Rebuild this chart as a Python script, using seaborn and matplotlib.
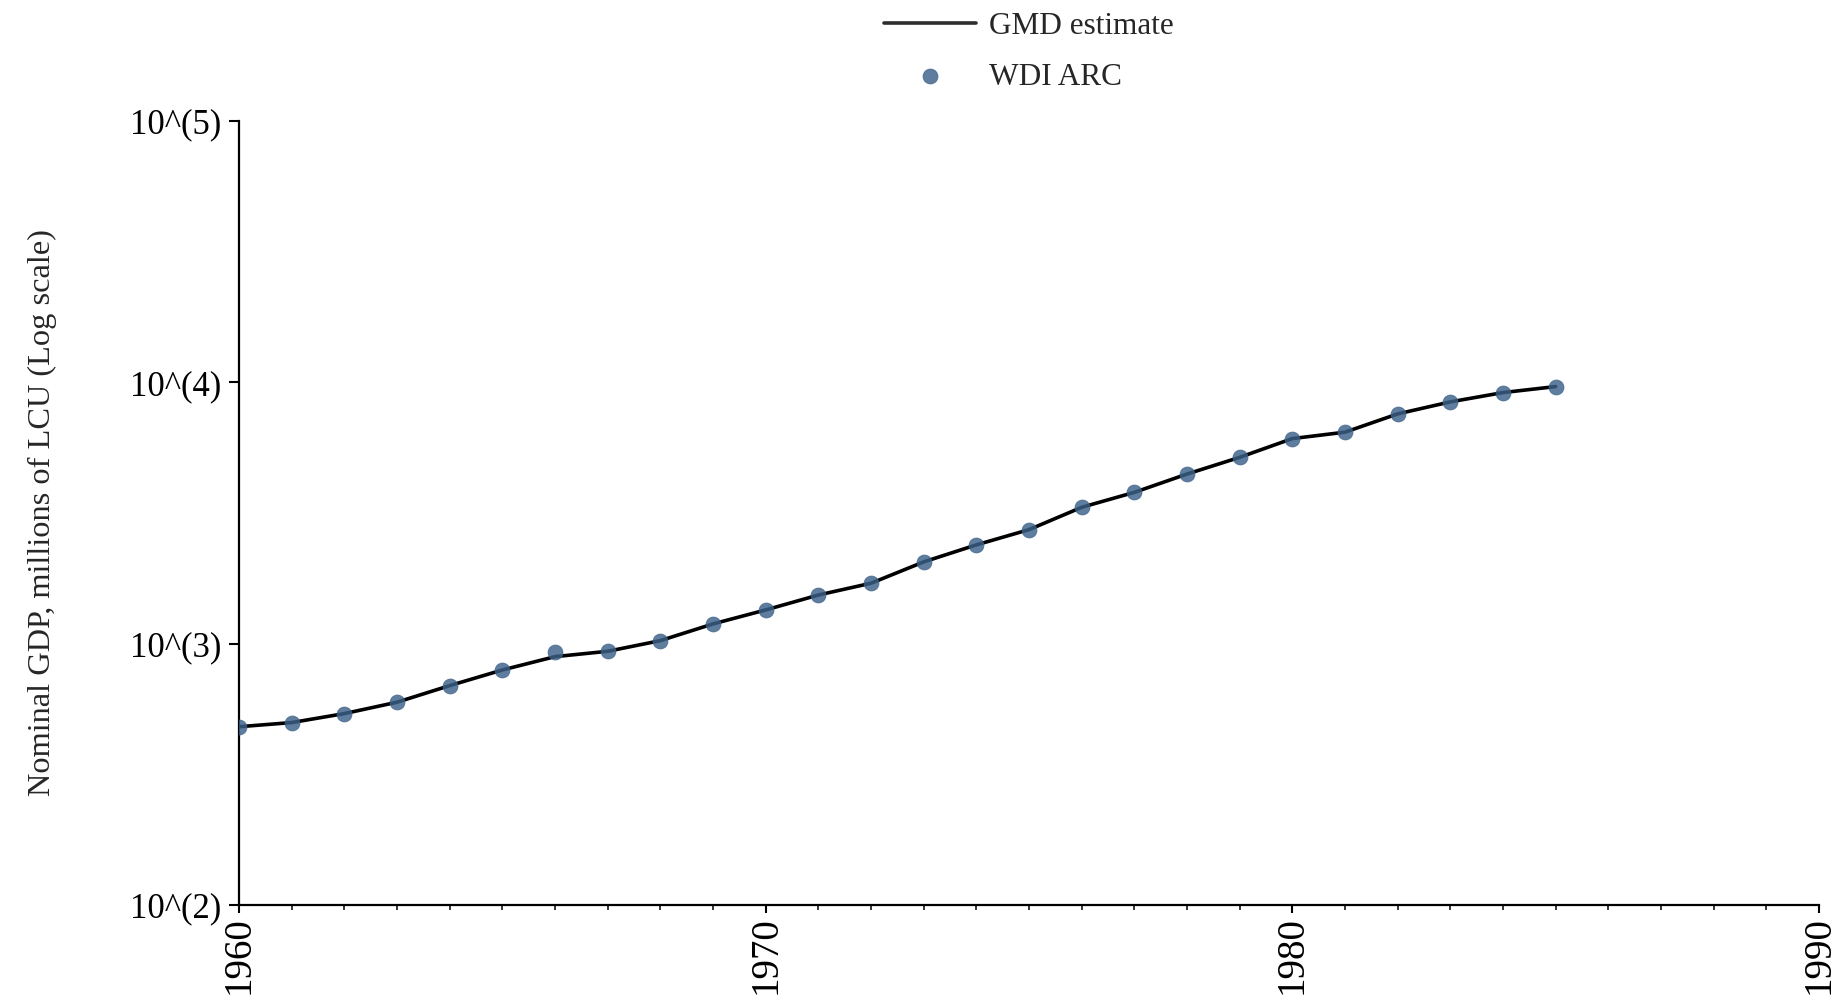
import numpy as np
import pandas as pd
import matplotlib
matplotlib.use("Agg")
import matplotlib.pyplot as plt
from matplotlib.ticker import NullLocator, FixedLocator
import seaborn as sns

# ---- data ----
years = list(range(1960, 1986))
gmd_estimate = [481, 499, 540, 597, 691, 793, 892, 935, 1027, 1190,
                1346, 1535, 1703, 2055, 2388, 2731, 3325, 3793, 4457, 5164,
                6092, 6446, 7572, 8418, 9138, 9633]
wdi_arc = [481, 499, 540, 597, 691, 793, 927, 935, 1027, 1190,
           1346, 1535, 1703, 2055, 2388, 2731, 3325, 3793, 4457, 5164,
           6092, 6446, 7572, 8418, 9138, 9633]
x_ticks = [1960, 1970, 1980, 1990]
x_ticklabels = ["1960", "1970", "1980", "1990"]
y_ticks = [1e2, 1e3, 1e4, 1e5]
y_ticklabels = ["10^(2)", "10^(3)", "10^(4)", "10^(5)"]
y_label = "Nominal GDP, millions of LCU (Log scale)"

df = pd.DataFrame({"year": years, "gmd": gmd_estimate, "wdi": wdi_arc})

sns.set_style("ticks")
plt.rcParams["font.family"] = ["Liberation Serif", "DejaVu Serif"]

fig = plt.figure(figsize=(18.45, 10.08), dpi=100)
ax = fig.add_axes([239 / 1845, 1 - 905 / 1008, (1819 - 239) / 1845, (905 - 121) / 1008])

sns.lineplot(data=df, x="year", y="gmd", ax=ax, color="black", linewidth=2.6,
             label="GMD estimate", zorder=2)
sns.scatterplot(data=df, x="year", y="wdi", ax=ax, color="#3c6189", s=115,
                alpha=0.82, edgecolor="#3c6189", linewidth=0.6,
                label="WDI ARC", zorder=3)

ax.set_yscale("log")
ax.set_ylim(1e2, 1e5)
ax.set_xlim(1960, 1990)
ax.yaxis.set_major_locator(FixedLocator(y_ticks))
ax.yaxis.set_minor_locator(NullLocator())
ax.set_yticklabels(y_ticklabels, fontsize=25)
ax.set_xticks(x_ticks)
ax.set_xticks(list(range(1960, 1991)), minor=True)
ax.set_xticklabels(x_ticklabels, rotation=90, fontsize=28)

ax.tick_params(axis="y", which="major", length=7, width=1.5, pad=6, colors="black")
ax.tick_params(axis="x", which="major", length=6, width=1.5, pad=2, colors="black")
ax.tick_params(axis="x", which="minor", length=3.5, width=1.1, colors="black")

ax.set_xlabel("")
ax.set_ylabel(y_label, fontsize=23.3, labelpad=52)

sns.despine(ax=ax)
for s in ["left", "bottom"]:
    ax.spines[s].set_linewidth(1.6)
    ax.spines[s].set_color("black")

ax_center = (239 + 1819) / 2 / 1845
leg = ax.legend(loc="upper center", bbox_to_anchor=(ax_center, 1.007),
                bbox_transform=fig.transFigure, frameon=False, fontsize=22.5,
                handlelength=2.95, handletextpad=0.4, labelspacing=0.7,
                borderpad=0.1)
for h in leg.legend_handles:
    try:
        h.set_alpha(0.82)
    except Exception:
        pass

fig.savefig("out.png", dpi=100)
